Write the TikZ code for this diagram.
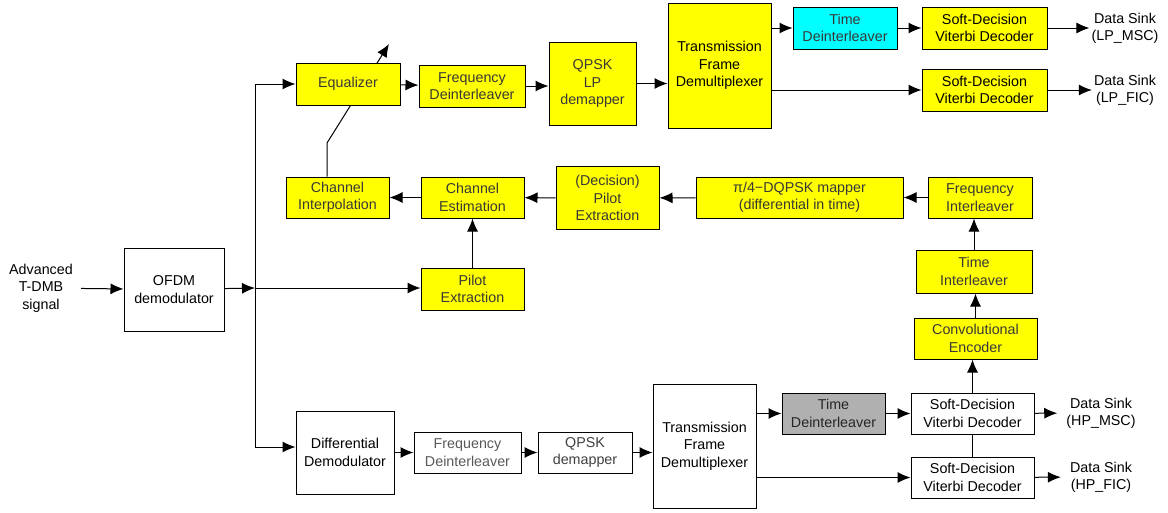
\documentclass[tikz,border=0pt]{standalone}
\usepackage{fontspec}
\setmainfont{Liberation Sans}
\usetikzlibrary{arrows.meta,backgrounds}
\definecolor{boxyellow}{RGB}{255,255,0}
\definecolor{boxcyan}{RGB}{0,255,255}
\definecolor{boxgray}{RGB}{176,176,176}
\begin{document}
\begin{tikzpicture}[x=1pt,y=-1pt]
	\tikzstyle{blk}=[draw=black,line width=1pt,align=center,inner sep=0pt,font=\fontsize{14.3}{17.3}\selectfont]
	\tikzstyle{yel}=[blk,fill=boxyellow,text=black!78]
	\tikzstyle{wht}=[blk,fill=white]
	\tikzstyle{lbl}=[align=center,inner sep=2pt,font=\fontsize{14.3}{17.3}\selectfont]
	\tikzstyle{arr}=[line width=1pt,-{Latex[length=13pt,width=11pt]}]
	\useasboundingbox (0,0) rectangle (1168,512);

	% input side
	\node[lbl] (input) at (41,288) {Advanced\\T-DMB\\signal};
	\node[wht,minimum width=100pt,minimum height=83pt] (ofdm) at (174,289.5) {OFDM\\demodulator};
	\coordinate (bustop) at (255,84);
	\coordinate (busmid) at (255,288);
	\coordinate (busbot) at (255,447);

	% LP branch
	\node[yel,minimum width=104pt,minimum height=42pt] (equal) at (348,84) {Equalizer};
	\node[yel,minimum width=106pt,minimum height=42pt] (fdilp) at (472,86) {Frequency\\Deinterleaver};
	\node[yel,minimum width=87pt,minimum height=83pt] (qpsklp) at (592.5,83.5) {QPSK\\LP\\demapper};
	\node[yel,text=black,minimum width=103pt,minimum height=125pt] (tfdlp) at (719.5,65.5) {Transmission\\Frame\\Demultiplexer};
	\node[blk,fill=boxcyan,text=black!78,minimum width=104pt,minimum height=42pt] (tdilp) at (845,28) {Time\\Deinterleaver};
	\node[yel,text=black,minimum width=125pt,minimum height=42pt] (vitlpmsc) at (984.5,28) {Soft-Decision\\Viterbi Decoder};
	\node[yel,text=black,minimum width=125pt,minimum height=42pt] (vitlpfic) at (984.5,90) {Soft-Decision\\Viterbi Decoder};
	\node[lbl] (sinklpmsc) at (1125,28) {Data Sink\\(LP\_MSC)};
	\node[lbl] (sinklpfic) at (1125,90) {Data Sink\\(LP\_FIC)};

	% channel estimation loop
	\node[yel,minimum width=103pt,minimum height=41pt] (chint) at (337.5,197.5) {Channel\\Interpolation};
	\node[yel,minimum width=103pt,minimum height=41pt] (chest) at (472.5,197.5) {Channel\\Estimation};
	\node[yel,minimum width=103pt,minimum height=63pt] (dpilot) at (607.5,198) {(Decision)\\Pilot\\Extraction};
	\node[yel,minimum width=207pt,minimum height=41pt] (mapper) at (799.5,197.5) {π/4−DQPSK mapper\\(differential in time)};
	\node[yel,minimum width=104pt,minimum height=41pt] (fint) at (980,197.5) {Frequency\\Interleaver};
	\node[yel,minimum width=116pt,minimum height=43pt] (tint) at (974,271.5) {Time\\Interleaver};
	\node[yel,minimum width=123pt,minimum height=41pt] (conv) at (975.5,338.5) {Convolutional\\Encoder};
	\node[yel,minimum width=103pt,minimum height=42pt] (pilot) at (472.5,289) {Pilot\\Extraction};
	\coordinate (eqknee) at (327,143);
	\coordinate (eqtip) at (389,44);

	% HP branch
	\node[wht,minimum width=98pt,minimum height=83pt] (dd) at (345,452.5) {Differential\\Demodulator};
	\node[wht,text=black!65,minimum width=107pt,minimum height=41pt] (fdihp) at (467.5,452.5) {Frequency\\Deinterleaver};
	\node[wht,text=black!75,minimum width=94pt,minimum height=41pt] (qpskhp) at (585,452.5) {QPSK\\demapper};
	\node[wht,minimum width=103pt,minimum height=124pt] (tfdhp) at (704.5,446) {Transmission\\Frame\\Demultiplexer};
	\node[blk,fill=boxgray,text=black!85,minimum width=103pt,minimum height=41pt] (tdihp) at (833.5,413.5) {Time\\Deinterleaver};
	\node[wht,minimum width=123pt,minimum height=41pt] (vithpmsc) at (972.5,413.5) {Soft-Decision\\Viterbi Decoder};
	\node[wht,minimum width=123pt,minimum height=41pt] (vithpfic) at (972.5,477.5) {Soft-Decision\\Viterbi Decoder};
	\node[lbl] (sinkhpmsc) at (1101,413) {Data Sink\\(HP\_MSC)};
	\node[lbl] (sinkhpfic) at (1101,477) {Data Sink\\(HP\_FIC)};

	\begin{pgfonlayer}{background}
	\draw[arr] (eqknee |- chint.north) -- (eqknee) -- (eqtip);
	\end{pgfonlayer}
	\draw[line width=1pt] (bustop) -- (busbot);
	\draw[line width=1pt] (vithpmsc) -- (vithpfic);

	\path[arr]
	(input) edge[shorten <=6pt] (ofdm)
	(ofdm) edge (busmid)
	(bustop) edge (equal)
	(busmid) edge (busmid -| pilot.west)
	(busbot) edge (busbot -| dd.west)

	(equal) edge (fdilp)
	(fdilp.east) edge (fdilp.east -| qpsklp.west)
	(qpsklp.east) edge (qpsklp.east -| tfdlp.west)
	(tfdlp.east |- tdilp) edge (tdilp)
	(tdilp) edge (vitlpmsc)
	(tfdlp.east |- vitlpfic) edge (vitlpfic)
	(vitlpmsc) edge (sinklpmsc)
	(vitlpfic) edge (sinklpfic)

	(vithpmsc.north) edge (vithpmsc.north |- conv.south)
	(conv.north) edge (conv.north |- tint.south)
	(tint.north) edge (tint.north |- fint.south)
	(fint) edge (mapper)
	(mapper) edge (dpilot)
	(dpilot) edge (chest)
	(chest) edge (chint)
	(pilot) edge (chest)

	(dd) edge (fdihp)
	(fdihp) edge (qpskhp)
	(qpskhp.east) edge (qpskhp.east -| tfdhp.west)
	(tfdhp.east |- tdihp) edge (tdihp)
	(tdihp) edge (vithpmsc)
	(tfdhp.east |- vithpfic) edge (vithpfic)
	(vithpmsc) edge[shorten >=7pt] (sinkhpmsc)
	(vithpfic) edge[shorten >=7pt] (sinkhpfic)
	;
\end{tikzpicture}
\end{document}
